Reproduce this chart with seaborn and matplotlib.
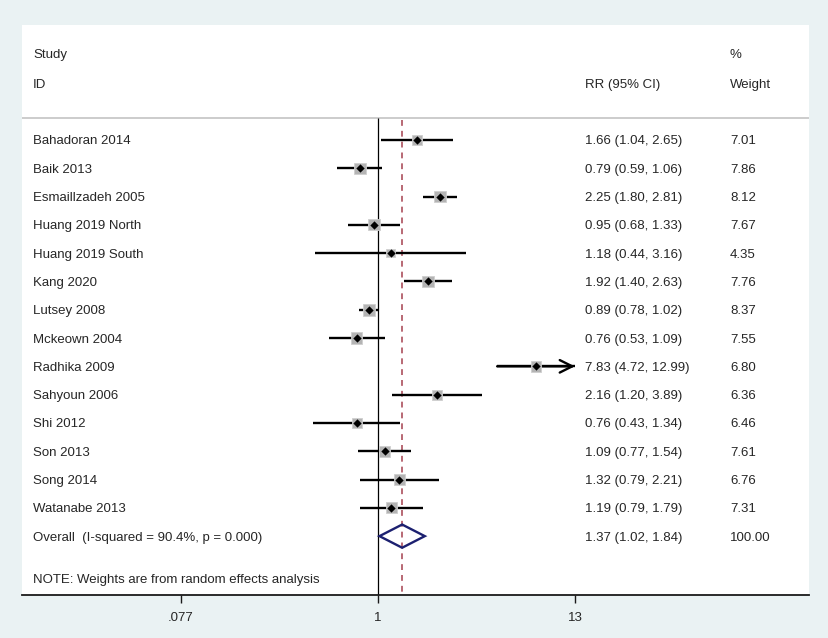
import numpy as np
import pandas as pd
import matplotlib
matplotlib.use("Agg")
import matplotlib.pyplot as plt
import seaborn as sns

studies = ["Bahadoran 2014", "Baik 2013", "Esmaillzadeh 2005", "Huang 2019 North",
           "Huang 2019 South", "Kang 2020", "Lutsey 2008", "Mckeown 2004",
           "Radhika 2009", "Sahyoun 2006", "Shi 2012", "Son 2013", "Song 2014",
           "Watanabe 2013"]
rr = [1.66, 0.79, 2.25, 0.95, 1.18, 1.92, 0.89, 0.76, 7.83, 2.16, 0.76, 1.09, 1.32, 1.19]
lo = [1.04, 0.59, 1.80, 0.68, 0.44, 1.40, 0.78, 0.53, 4.72, 1.20, 0.43, 0.77, 0.79, 0.79]
hi = [2.65, 1.06, 2.81, 1.33, 3.16, 2.63, 1.02, 1.09, 12.99, 3.89, 1.34, 1.54, 2.21, 1.79]
weight = [7.01, 7.86, 8.12, 7.67, 4.35, 7.76, 8.37, 7.55, 6.80, 6.36, 6.46, 7.61, 6.76, 7.31]

overall_label = "Overall  (I-squared = 90.4%, p = 0.000)"
overall_rr, overall_lo, overall_hi, overall_w = 1.37, 1.02, 1.84, 100.00
note = "NOTE: Weights are from random effects analysis"
tick_vals = [0.077, 1, 13]
tick_labels = [".077", "1", "13"]
axis_max = 13  # CIs beyond this get an arrow

df = pd.DataFrame({"study": studies, "rr": rr, "lo": lo, "hi": hi, "weight": weight})
df["row"] = np.arange(len(df))
overall_row = len(df)

sns.set_style("white")
plt.rcParams["font.family"] = ["Liberation Sans", "DejaVu Sans"]
fs = 9.5

fig = plt.figure(figsize=(8.29, 6.38), dpi=100)
fig.patch.set_facecolor("#EAF2F3")
ax = fig.add_axes([22 / 829, 43 / 638, 787 / 829, 570 / 638])
ax.set_facecolor("white")
ax.set_xscale("log")
ax.set_xlim(0.0097, 274)
ax.set_ylim(16.08, -4.06)

# header rule and reference lines
ax.axhline(-0.78, color="#C4C4C4", lw=1.2)
ax.vlines(1, -0.78, 16.08, color="black", lw=0.9)
ax.vlines(overall_rr, -0.72, 16.08, color="#AC4F5C", lw=1.2, linestyles=(0, (3.5, 3)))

# confidence intervals
normal = df[df["hi"] < axis_max]
ax.hlines(normal["row"], normal["lo"], normal["hi"], color="black", lw=1.7, zorder=3)
for _, r in df[df["hi"] >= axis_max * 0.99].iterrows():
    ax.annotate("", xy=(r["hi"], r["row"]), xytext=(r["lo"], r["row"]),
                arrowprops=dict(arrowstyle="->,head_length=0.9,head_width=0.45",
                                color="black", lw=1.7, shrinkA=0, shrinkB=0), zorder=3)

# weight boxes and point estimates
sns.scatterplot(data=df, x="rr", y="row", size="weight", sizes=(4.35 * 8.5, 8.37 * 8.5),
                size_norm=(4.35, 8.37), marker="s", color="#B4B4B4", edgecolor="#CFCFCF",
                linewidth=0.6, legend=False, ax=ax, zorder=4)
sns.scatterplot(data=df, x="rr", y="row", marker="D", color="black", s=18,
                linewidth=0, legend=False, ax=ax, zorder=5)

# pooled diamond
ax.fill([overall_lo, overall_rr, overall_hi, overall_rr],
        [overall_row, overall_row - 0.41, overall_row, overall_row + 0.41],
        facecolor="none", edgecolor="#1C2070", lw=1.7, zorder=5)

# text columns
tr = ax.get_yaxis_transform()
xt_study, xt_rr, xt_w = 11 / 787, 563 / 787, 708 / 787
va = "center_baseline"
ax.text(xt_study, -3.04, "Study", transform=tr, fontsize=fs, va=va)
ax.text(xt_study, -2.01, "ID", transform=tr, fontsize=fs, va=va)
ax.text(xt_rr, -2.01, "RR (95% CI)", transform=tr, fontsize=fs, va=va)
ax.text(xt_w, -3.04, "%", transform=tr, fontsize=fs, va=va)
ax.text(xt_w, -2.01, "Weight", transform=tr, fontsize=fs, va=va)
for _, r in df.iterrows():
    ax.text(xt_study, r["row"], r["study"], transform=tr, fontsize=fs, va=va)
    ax.text(xt_rr, r["row"], f"{r['rr']:.2f} ({r['lo']:.2f}, {r['hi']:.2f})",
            transform=tr, fontsize=fs, va=va)
    ax.text(xt_w, r["row"], f"{r['weight']:.2f}", transform=tr, fontsize=fs, va=va)
ax.text(xt_study, overall_row, overall_label, transform=tr, fontsize=fs, va=va)
ax.text(xt_rr, overall_row, f"{overall_rr:.2f} ({overall_lo:.2f}, {overall_hi:.2f})",
        transform=tr, fontsize=fs, va=va)
ax.text(xt_w, overall_row, f"{overall_w:.2f}", transform=tr, fontsize=fs, va=va)
ax.text(xt_study, 15.48, note, transform=tr, fontsize=fs, va=va)

# axes styling
for side in ["top", "left", "right"]:
    ax.spines[side].set_visible(False)
ax.spines["bottom"].set_color("#1A1A1A")
ax.spines["bottom"].set_linewidth(1.3)
ax.set_yticks([])
ax.set_xticks(tick_vals)
ax.set_xticklabels(tick_labels, fontsize=fs)
ax.xaxis.set_minor_locator(matplotlib.ticker.NullLocator())
ax.tick_params(axis="x", direction="out", length=6, width=1, color="#1A1A1A", pad=6, bottom=True)
ax.set_xlabel("")
ax.set_ylabel("")

fig.savefig("out.png", dpi=100, facecolor=fig.get_facecolor())
